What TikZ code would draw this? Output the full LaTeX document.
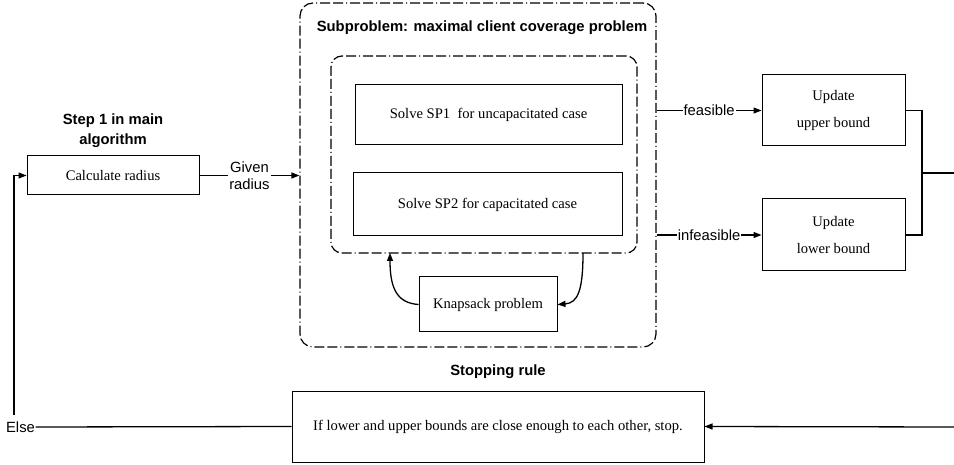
\documentclass[tikz,border=0pt]{standalone}
\usepackage{fontspec}
\setmainfont{Liberation Serif}
\setsansfont{Liberation Sans}
\usetikzlibrary{arrows.meta}
\begin{document}
\begin{tikzpicture}[x=1pt,y=-1pt,
  line width=1.3pt,
  box/.style={draw, line width=1pt, inner sep=0pt, font=\fontsize{14.6}{17}\selectfont\rmfamily, align=center},
  frame/.style={draw, line width=1.2pt, rounded corners=13pt, dash pattern=on 10pt off 3pt on 10pt off 3pt on 1pt off 3pt, inner sep=0pt},
  lbl/.style={font=\fontsize{14.8}{17}\selectfont\sffamily, inner sep=1pt, fill=white, align=center},
  ttl/.style={font=\fontsize{14.8}{20}\selectfont\sffamily\bfseries, align=center, inner sep=0pt},
  arr/.style={-{Triangle[length=8pt,width=6pt]}}
]
\useasboundingbox (0,0) rectangle (954,465);

% main nodes
\node[box, minimum width=172pt, minimum height=39pt] (calc) at (113,175.5) {Calculate radius};
\node[ttl] (step) at (113,131) {Step 1 in main\\algorithm};

\node[frame, minimum width=356pt, minimum height=344pt] (outer) at (478,175) {};
\node[ttl] (sub) at (482,28) {Subproblem: maximal client coverage problem};
\node[frame, rounded corners=11pt, minimum width=306pt, minimum height=197pt] (inner) at (484,154.5) {};

\node[box, minimum width=267pt, minimum height=60pt] (sp1) at (488.5,115) {Solve SP1\ \ for uncapacitated case};
\node[box, minimum width=269pt, minimum height=63pt] (sp2) at (487.5,204.5) {Solve SP2 for capacitated case};
\node[box, minimum width=138pt, minimum height=55pt] (knap) at (488,304.5) {Knapsack problem};

\node[box, minimum width=143pt, minimum height=71pt, font=\fontsize{14.6}{27}\selectfont\rmfamily] (upper) at (833.5,110.5) {Update\\upper bound};
\node[box, minimum width=143pt, minimum height=72pt, font=\fontsize{14.6}{27}\selectfont\rmfamily] (lower) at (833.5,235) {Update\\lower bound};

\node[ttl] (stoplbl) at (498,372) {Stopping rule};
\node[box, minimum width=412pt, minimum height=71pt] (stop) at (498,426.5) {If lower and upper bounds are close enough to each other, stop.};

\node[lbl, fill=none, inner sep=0pt] (else) at (20.5,427) {Else};

% coordinates
\coordinate (vtop) at (14,415);
\coordinate (kin) at (390,253);
\coordinate (kout) at (583,253);
\coordinate (join) at (922,173);
\coordinate (redge) at (954,173);
\coordinate (redge2) at (954,427);

% connectors
\draw[arr] (calc.east) -- node[lbl] {Given\\radius} (outer.west |- calc.east);
\draw[arr] (outer.east |- upper.west) -- node[lbl] {feasible} (upper.west);
\draw[arr] (outer.east |- lower.west) -- node[lbl] {infeasible} (lower.west);
\draw (upper.east) -| (join) |- (lower.east);
\draw (join) -- (redge);
\draw[arr] (redge2) -- (stop.east);
\draw (stop.west) -- (else.east);
\draw[arr] (vtop) |- (calc.west);
\draw[arr] (knap.west) .. controls (398,303) and (390,290) .. (kin);
\draw[arr] (kout) .. controls (583,290) and (578,303) .. (knap.east);
\end{tikzpicture}
\end{document}
